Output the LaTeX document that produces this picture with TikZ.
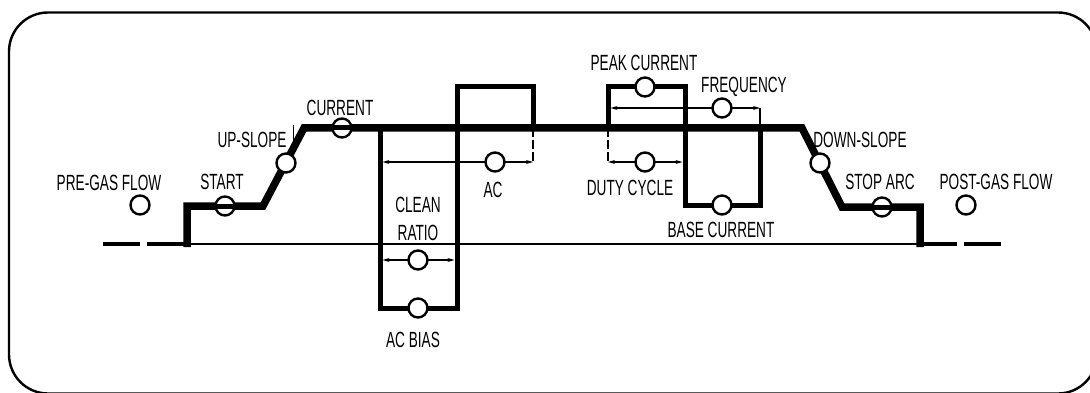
\documentclass[tikz,border=0pt]{standalone}
\usepackage{fontspec}
\newfontfamily\lblfont[FakeStretch=0.62]{Liberation Sans}
\usetikzlibrary{arrows.meta,positioning}

\begin{document}
\begin{tikzpicture}[x=1pt,y=-1pt,
  every node/.style={font=\lblfont\fontsize{22}{26}\selectfont, inner sep=0pt},
  lbl/.style={text height=15.7pt, text depth=0pt},
  knob/.style={circle, draw, fill=white, line width=2.4pt, minimum size=19pt},
  knobI/.style={knob, path picture={\draw[line width=5pt] (path picture bounding box.west) -- (path picture bounding box.east);}},
  wave/.style={line width=7.5pt, line join=miter},
  pulse/.style={line width=5pt, line join=miter},
  dim/.style={line width=1.2pt, {Stealth[length=7pt,width=4pt]}-{Stealth[length=7pt,width=4pt]}},
  ext/.style={line width=1.2pt, dash pattern=on 9pt off 3pt}]
\useasboundingbox (0,0) rectangle (1090,393);
% frame
\draw[line width=2.4pt, rounded corners=39pt] (9,12.5) rectangle (1097,393.5);
% zero line
\draw[line width=1.2pt] (187,244) -- (920,244);
\draw[line width=4pt, dash pattern=on 37pt off 7pt] (103,244) -- (187,244);
\draw[line width=4pt, dash pattern=on 37pt off 7pt] (920,244) -- (1003,244);
% dimension lines
\draw[dim] (382.5,260) -- (454.5,260);
\draw[dim] (382.5,162) -- (533,162);
\draw[dim] (608,162) -- (682.5,162);
\draw[dim] (610.5,108) -- (760,108);
\draw[ext] (533,128) -- (533,162);
\draw[ext] (608,128) -- (608,162);
\draw[line width=1.2pt] (760,108) -- (760,128);
% output current
\draw[wave] (187,247) -- (187,206) -- (263,206) -- (304,128) -- (802,128) -- (842,207) -- (920,207) -- (920,247);
\draw[pulse] (380,128) -- (380,308) -- (457,308) -- (457,87) -- (533,87) -- (533,128);
\draw[pulse] (608,128) -- (608,87) -- (685,87) -- (685,205) -- (760,205) -- (760,128);
% knobs
\node[knob] (pregas) at (140,205) {};
\node[knobI] (start) at (225,206) {};
\node[knob] (upslope) at (286,163) {};
\node[knobI] (current) at (342,128) {};
\node[knob] (cleanratio) at (418,260) {};
\node[knob] (acbias) at (418,308) {};
\node[knob] (ac) at (495,162) {};
\node[knob] (dutycycle) at (645,162) {};
\node[knob] (peak) at (645,87) {};
\node[knob] (frequency) at (722,108) {};
\node[knob] (base) at (722,205) {};
\node[knob] (downslope) at (820,163) {};
\node[knobI] (stoparc) at (882,207) {};
\node[knob] (postgas) at (966,205) {};
% labels
\node[lbl] (pregas-l) at (109,183) {PRE-GAS FLOW};
\node[lbl] (start-l) at (222,182) {START};
\node[lbl] (upslope-l) at (252,140) {UP-SLOPE};
\node[lbl] (current-l) at (340,108) {CURRENT};
\node[align=center] (cleanratio-l) at (418,219) {CLEAN\\[2pt]RATIO};
\node[lbl] (acbias-l) at (413,340) {AC BIAS};
\node[lbl] (ac-l) at (493,190) {AC};
\node[lbl] (dutycycle-l) at (630,188) {DUTY CYCLE};
\node[lbl] (peak-l) at (644,63) {PEAK CURRENT};
\node[lbl] (frequency-l) at (744,85) {FREQUENCY};
\node[lbl] (base-l) at (721,230) {BASE CURRENT};
\node[lbl] (downslope-l) at (860,140) {DOWN-SLOPE};
\node[lbl] (stoparc-l) at (880,182) {STOP ARC};
\node[lbl] (postgas-l) at (996,182) {POST-GAS FLOW};
\draw[line width=1.2pt] (upslope.north east) -- ++(0,-30);
\end{tikzpicture}
\end{document}
